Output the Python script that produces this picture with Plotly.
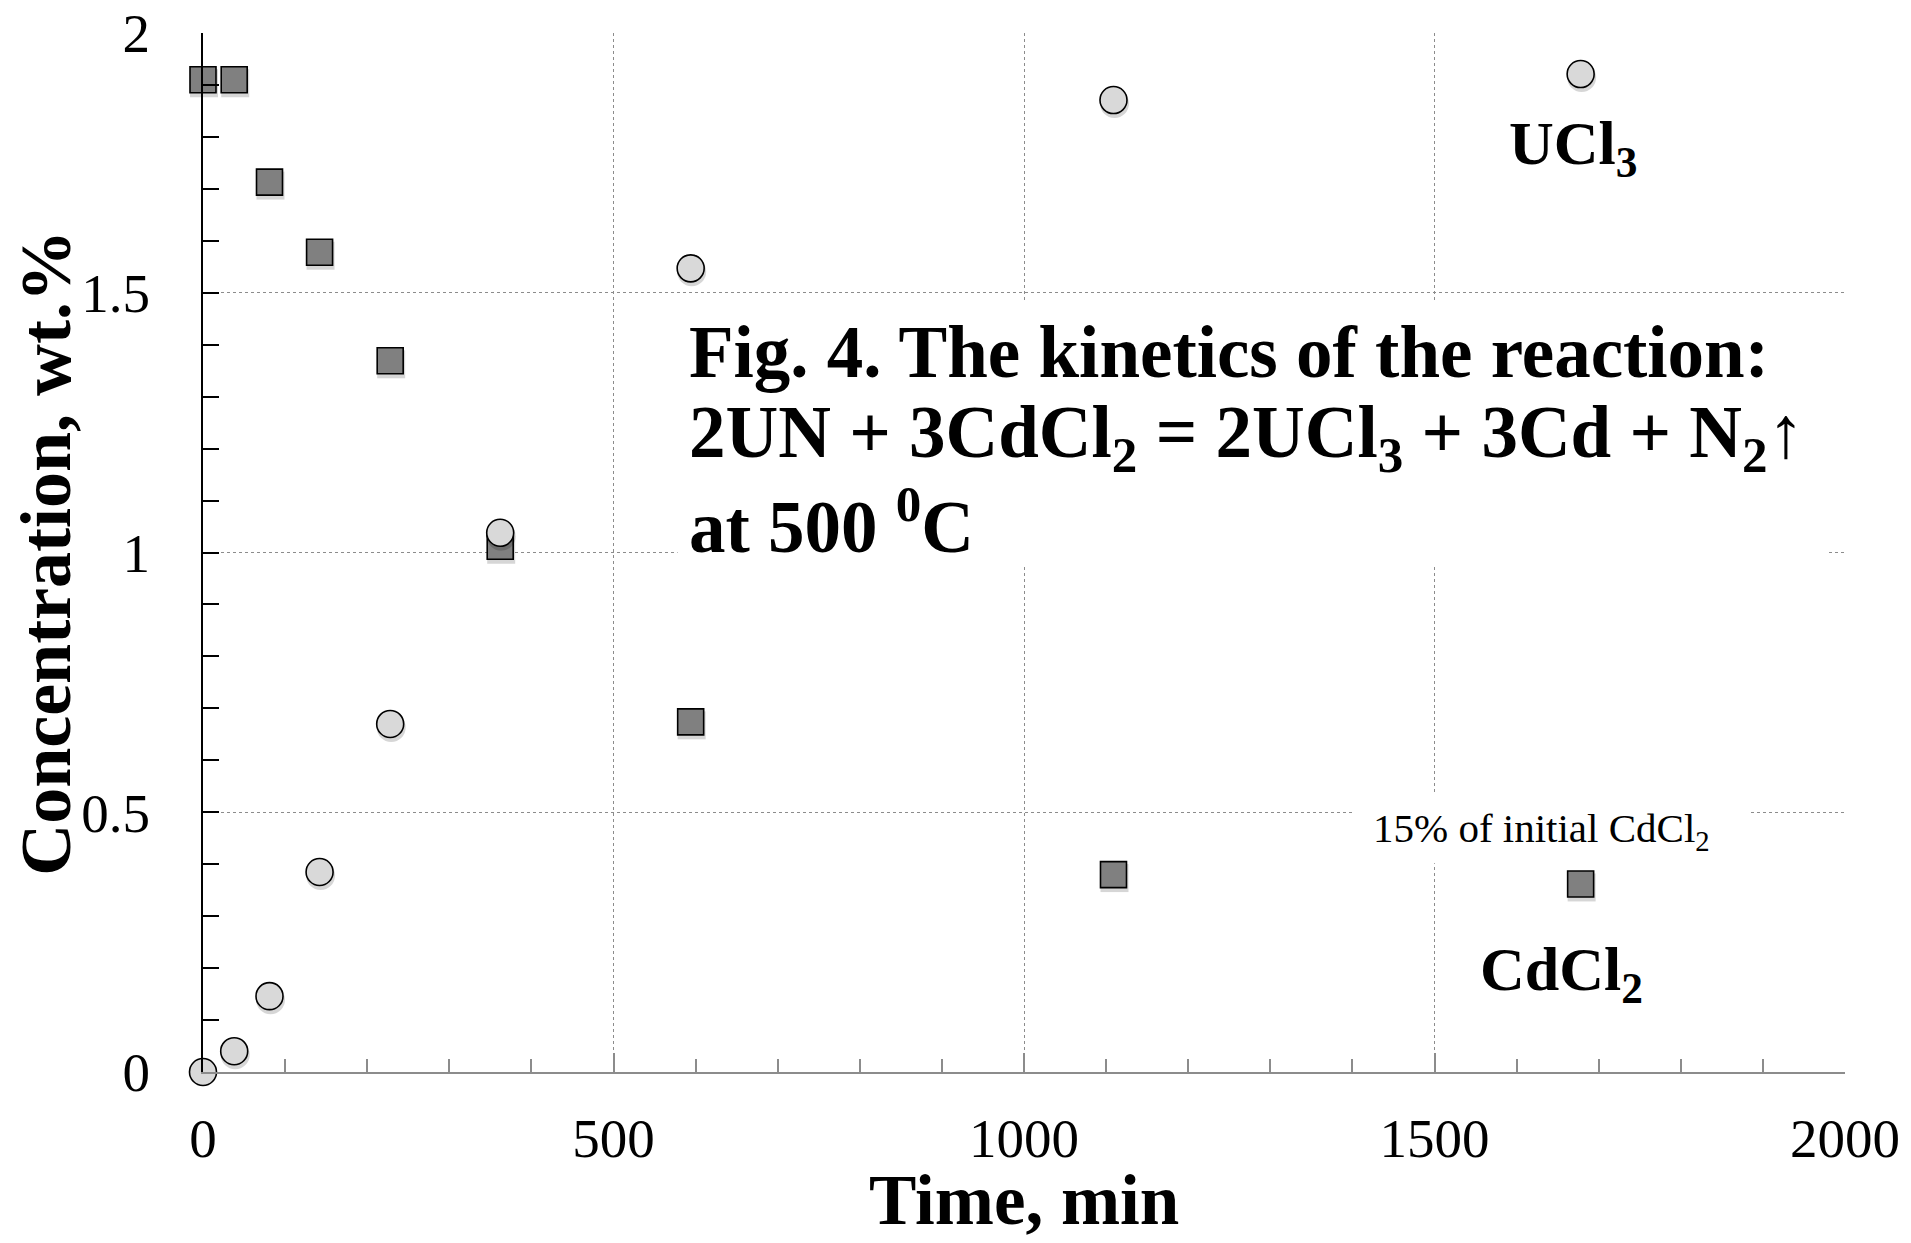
import plotly.graph_objects as go

# ---- data ----
time_cdcl2 = [0, 38, 81, 142, 228, 362, 594, 1109, 1678]
conc_cdcl2 = [1.91, 1.91, 1.713, 1.578, 1.369, 1.012, 0.674, 0.380, 0.362]

time_ucl3 = [0, 38, 81, 142, 228, 362, 594, 1109, 1678]
conc_ucl3 = [0.0, 0.040, 0.146, 0.385, 0.670, 1.038, 1.547, 1.871, 1.921]

x_ticks = [0, 500, 1000, 1500, 2000]
y_ticks = [0, 0.5, 1, 1.5, 2]
y_tick_text = ["0", "0.5", "1", "1.5", "2"]

FONT = "Liberation Serif, Times New Roman, serif"

# soft drop shadow: a few pixels below each marker (plot height 1039 px for 2 units)
SHADOW_DY = 3.5 * 2 / 1039
SHADOW_DX = 1.0 * 2000 / 1642

fig = go.Figure()

fig.add_trace(go.Scatter(
    x=[t + SHADOW_DX for t in time_cdcl2], y=[c - SHADOW_DY for c in conc_cdcl2],
    mode="markers", hoverinfo="skip",
    marker=dict(symbol="square", size=28, color="rgba(0,0,0,0.16)", line=dict(width=0)),
    showlegend=False, cliponaxis=False,
))
fig.add_trace(go.Scatter(
    x=time_cdcl2, y=conc_cdcl2, mode="markers", name="CdCl2",
    marker=dict(symbol="square", size=26, color="#808080",
                line=dict(color="black", width=1.6)),
    showlegend=False, cliponaxis=False,
))
fig.add_trace(go.Scatter(
    x=[t + SHADOW_DX for t in time_ucl3], y=[c - SHADOW_DY for c in conc_ucl3],
    mode="markers", hoverinfo="skip",
    marker=dict(symbol="circle", size=29, color="rgba(0,0,0,0.16)", line=dict(width=0)),
    showlegend=False, cliponaxis=False,
))
fig.add_trace(go.Scatter(
    x=time_ucl3, y=conc_ucl3, mode="markers", name="UCl3",
    marker=dict(symbol="circle", size=27, color="#d9d9d9",
                line=dict(color="black", width=1.6)),
    showlegend=False, cliponaxis=False,
))

# white boxes hiding the grid behind the text blocks
fig.add_shape(type="rect", xref="x", yref="y", x0=578, x1=1979, y0=0.972, y1=1.486,
              fillcolor="white", line=dict(width=0), layer="between")
fig.add_shape(type="rect", xref="x", yref="y", x0=1400, x1=1883, y0=0.402, y1=0.537,
              fillcolor="white", line=dict(width=0), layer="between")

big = dict(family=FONT, size=73, color="black")
fig.add_annotation(x=590, y=1.385, xref="x", yref="y", xanchor="left", yanchor="middle",
                   text="<b>Fig. 4. The kinetics of the reaction:</b>", showarrow=False, font=big)
fig.add_annotation(x=590, y=1.222, xref="x", yref="y", xanchor="left", yanchor="middle",
                   text="<b>2UN + 3CdCl<sub>2</sub> = 2UCl<sub>3</sub> + 3Cd + N<sub>2</sub>↑</b>",
                   showarrow=False, font=big)
fig.add_annotation(x=590, y=1.06, xref="x", yref="y", xanchor="left", yanchor="middle",
                   text="<b>at 500 <sup>0</sup>C</b>", showarrow=False, font=big)

lab = dict(family=FONT, size=62, color="black")
fig.add_annotation(x=1588, y=1.78, xref="x", yref="y", xanchor="left", yanchor="middle",
                   text="<b>UCl<sub>3</sub></b>", showarrow=False, font=lab)
fig.add_annotation(x=1553, y=0.19, xref="x", yref="y", xanchor="left", yanchor="middle",
                   text="<b>CdCl<sub>2</sub></b>", showarrow=False, font=lab)
fig.add_annotation(x=1423, y=0.464, xref="x", yref="y", xanchor="left", yanchor="middle",
                   text="15% of initial CdCl<sub>2</sub>", showarrow=False,
                   font=dict(family=FONT, size=41, color="black"))

# axis titles
fig.add_annotation(x=0.5, y=-0.123, xref="paper", yref="paper", xanchor="center", yanchor="middle",
                   text="<b>Time, min</b>", showarrow=False, borderpad=0,
                   font=dict(family=FONT, size=71, color="black"))
fig.add_annotation(x=-0.096, y=0.5, xref="paper", yref="paper", xanchor="center", yanchor="middle",
                   text="<b>Concentration, wt.%</b>", textangle=-90, showarrow=False,
                   font=dict(family=FONT, size=72, color="black"))

fig.update_layout(
    width=1911, height=1243,
    margin=dict(l=203, r=66, t=33, b=171, autoexpand=False),
    paper_bgcolor="white", plot_bgcolor="white",
    font=dict(family=FONT, size=55, color="black"),
    showlegend=False,
)
fig.update_xaxes(
    range=[0, 2000], tickvals=x_ticks, ticktext=[str(v) for v in x_ticks],
    showline=True, linecolor="#8c8c8c", linewidth=2,
    ticks="inside", ticklen=19, tickwidth=2, tickcolor="#8c8c8c",
    minor=dict(dtick=100, ticks="inside", ticklen=13, tickwidth=2, tickcolor="#8c8c8c", showgrid=False),
    showgrid=True, gridcolor="#8c8c8c", gridwidth=1.2, griddash="dot",
    zeroline=False, ticklabelstandoff=17, automargin=False,
    tickfont=dict(family=FONT, size=55, color="black"),
)
fig.update_yaxes(
    range=[0, 2], tickvals=y_ticks, ticktext=y_tick_text,
    showline=True, linecolor="black", linewidth=2,
    ticks="inside", ticklen=16, tickwidth=2, tickcolor="black",
    minor=dict(dtick=0.1, ticks="inside", ticklen=16, tickwidth=2, tickcolor="black", showgrid=False),
    showgrid=True, gridcolor="#8c8c8c", gridwidth=1.2, griddash="dot",
    zeroline=False, ticklabelstandoff=40, automargin=False,
    tickfont=dict(family=FONT, size=55, color="black"),
)

fig.write_html("out.html")
